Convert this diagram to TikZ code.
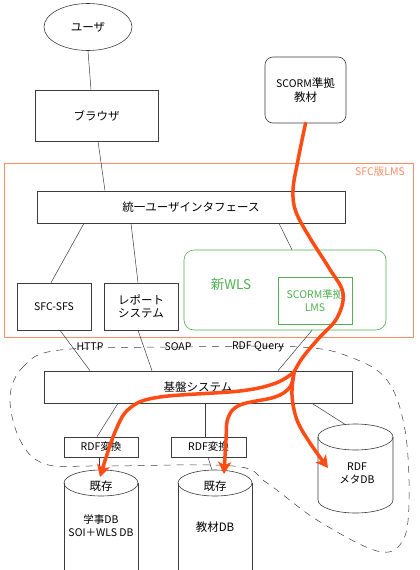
\documentclass[tikz,border=0pt]{standalone}
\usepackage{fontspec}
\setmainfont{Noto Sans CJK JP}
\usepackage{xcolor}
\usetikzlibrary{
  shapes.geometric,
  arrows.meta,
  positioning,
  calc
}
\definecolor{lmsorange}{RGB}{255,140,100}
\definecolor{flowred}{RGB}{255,75,20}
\definecolor{wlsgreen}{RGB}{80,175,80}
\definecolor{linegray}{RGB}{60,60,60}

\begin{document}
\begin{tikzpicture}[
  x=1pt, y=-1pt,
  font=\fontsize{11.5}{13.5}\selectfont,
  box/.style={draw=linegray, line width=0.6pt, align=center, inner sep=1pt},
  ell/.style={ellipse, draw=linegray, line width=0.6pt, inner sep=0pt},
  con/.style={draw=linegray, line width=0.5pt},
  dbl/.style={draw=linegray, line width=0.6pt},
  flow/.style={draw=flowred, line width=3.5pt, line cap=round},
  tip/.style={-{Stealth[length=12pt,width=13pt,inset=3pt]}},
  lat/.style={font=\fontsize{10.5}{13}\selectfont}
]
  \useasboundingbox (0,0) rectangle (420,570);
  \clip (0,0) rectangle (420,570);
  % --- top ---
  \node[ell, minimum width=88, minimum height=47] (user) at (88,27) {ユーザ};
  \node[box, minimum width=123, minimum height=51] (brw) at (96.5,115.5) {ブラウザ};
  \node[box, rounded corners=8pt, minimum width=81, minimum height=66] (sco) at (305.5,90) {{\fontsize{10.5}{13}\selectfont SCORM}準拠\\教材};
  \draw[con] (user.south) -- ([xshift=-5.5pt]brw.north);
  % --- SFC LMS ---
  \node[draw=lmsorange, line width=0.6pt, minimum width=409, minimum height=174] (lms) at (208.5,250) {};
  \node[text=lmsorange, lat] (lmst) at (380,172) {SFC版LMS};
  \node[box, minimum width=308, minimum height=32] (uif) at (191,207) {統一ユーザインタフェース};
  \node[box, lat, minimum width=74, minimum height=47] (sfs) at (54,306.5) {SFC-SFS};
  \node[box, minimum width=74, minimum height=47] (rep) at (141,306.5) {レポート\\システム};
  \node[draw=wlsgreen, line width=0.6pt, rounded corners=10pt, minimum width=202, minimum height=80] (wls) at (285,290) {};
  \node[text=wlsgreen, font=\fontsize{13.5}{15}\selectfont] (wlst) at (231,284) {新WLS};
  \node[box, lat, draw=wlsgreen, text=wlsgreen, minimum width=74, minimum height=47] (slms) at (315,300.5) {SCORM準拠\\LMS};
  \draw[con] ([xshift=1.5pt]brw.south) -- ([xshift=-86pt]uif.north);
  \draw[con] ([xshift=-107pt]uif.south) -- ([xshift=-3pt]sfs.north);
  \draw[con] ([xshift=-60pt]uif.south) -- ([xshift=-3pt]rep.north);
  \draw[con] ([xshift=88pt]uif.south) -- ([xshift=7pt]wls.north);
  % --- base system ---
  \node[box, minimum width=308, minimum height=32] (kib) at (198,387) {基盤システム};
  \draw[con] ([xshift=6pt]sfs.south) -- ([xshift=-108pt]kib.north);
  \draw[con] ([xshift=-3pt]rep.south) -- ([xshift=-46pt]kib.north);
  \draw[con] ([xshift=27pt]wls.south) -- ([xshift=80pt]kib.north);
  \draw[con, dash pattern=on 7pt off 6pt] plot[smooth cycle, tension=0.6] coordinates {
    (60,350) (24,366) (10,397) (20,440) (45,464) (100,466) (233,466) (267,483)
    (317,520) (377,551) (402,542) (409,503) (405,430) (387,380) (350,357) (300,347) (180,347)};
  \node[lat] (http) at (90,347) {HTTP};
  \node[lat] (soap) at (178,347) {SOAP};
  \node[lat] (rdfq) at (258,347) {RDF Query};
  \node[box, lat, minimum width=74, minimum height=20] (rdf1) at (101,447) {RDF変換};
  \node[box, lat, minimum width=75, minimum height=20] (rdf2) at (208.5,447) {RDF変換};
  % --- DBs ---
  \coordinate (db1) at (99,470);
  \coordinate (db2) at (212,470);
  \coordinate (db3) at (346,425);
  \draw[dbl] (64,483) -- (64,580) (138,483) -- (138,580);
  \draw[dbl] (101,483) ellipse [x radius=37pt, y radius=13pt];
  \draw[dbl] (178,483) -- (178,580) (252,483) -- (252,580);
  \draw[dbl] (215,483) ellipse [x radius=37pt, y radius=13pt];
  \draw[dbl] (318,437) -- (318,500) arc[start angle=180, end angle=360, x radius=37.5pt, y radius=13pt] -- (393,437);
  \draw[dbl] (355.5,437) ellipse [x radius=37.5pt, y radius=13pt];
  \node (db1a) at (101,486) {既存};
  \node[align=center, lat] (db1b) at (101,526) {学事DB\\SOI＋WLS DB};
  \node (db2a) at (215,486) {既存};
  \node (db2b) at (215,527) {教材DB};
  \node[align=center, lat] (db3a) at (357,473) {RDF\\メタDB};
  \draw[con] ([xshift=-80pt]kib.south) -- ([xshift=-4pt]rdf1.north);
  \draw[con] ([xshift=7pt]kib.south) -- ([xshift=-3.5pt]rdf2.north);
  \draw[con] ([xshift=114pt]kib.south) -- (db3);
  \draw[con] ([xshift=-2pt]rdf1.south) -- (db1);
  \draw[con] ([xshift=-0.5pt]rdf2.south) -- (db2);
  % --- SCORM flow ---
  \coordinate (sp) at (294,372);
  \coordinate (t1) at (100,477);
  \coordinate (t2) at (224,474);
  \coordinate (t3) at (328,468);
  \draw[flow] plot[smooth, tension=0.6] coordinates {(sco.south) (298,160) (293,190) (296,212)
    (310,238) (329,268) (343,293) (337,318) (319,338) (303,357) (sp)};
  \draw[flow, tip] plot[smooth, tension=0.6] coordinates {(sp) (276,383) (240,391) (160,397)
    (130,408) (115,432) (t1)};
  \draw[flow, tip] plot[smooth, tension=0.6] coordinates {(sp) (290,387) (275,397) (240,405)
    (228,418) (226,440) (t2)};
  \draw[flow, tip] plot[smooth, tension=0.6] coordinates {(sp) (292,395) (297,420) (310,443) (t3)};
\end{tikzpicture}
\end{document}
